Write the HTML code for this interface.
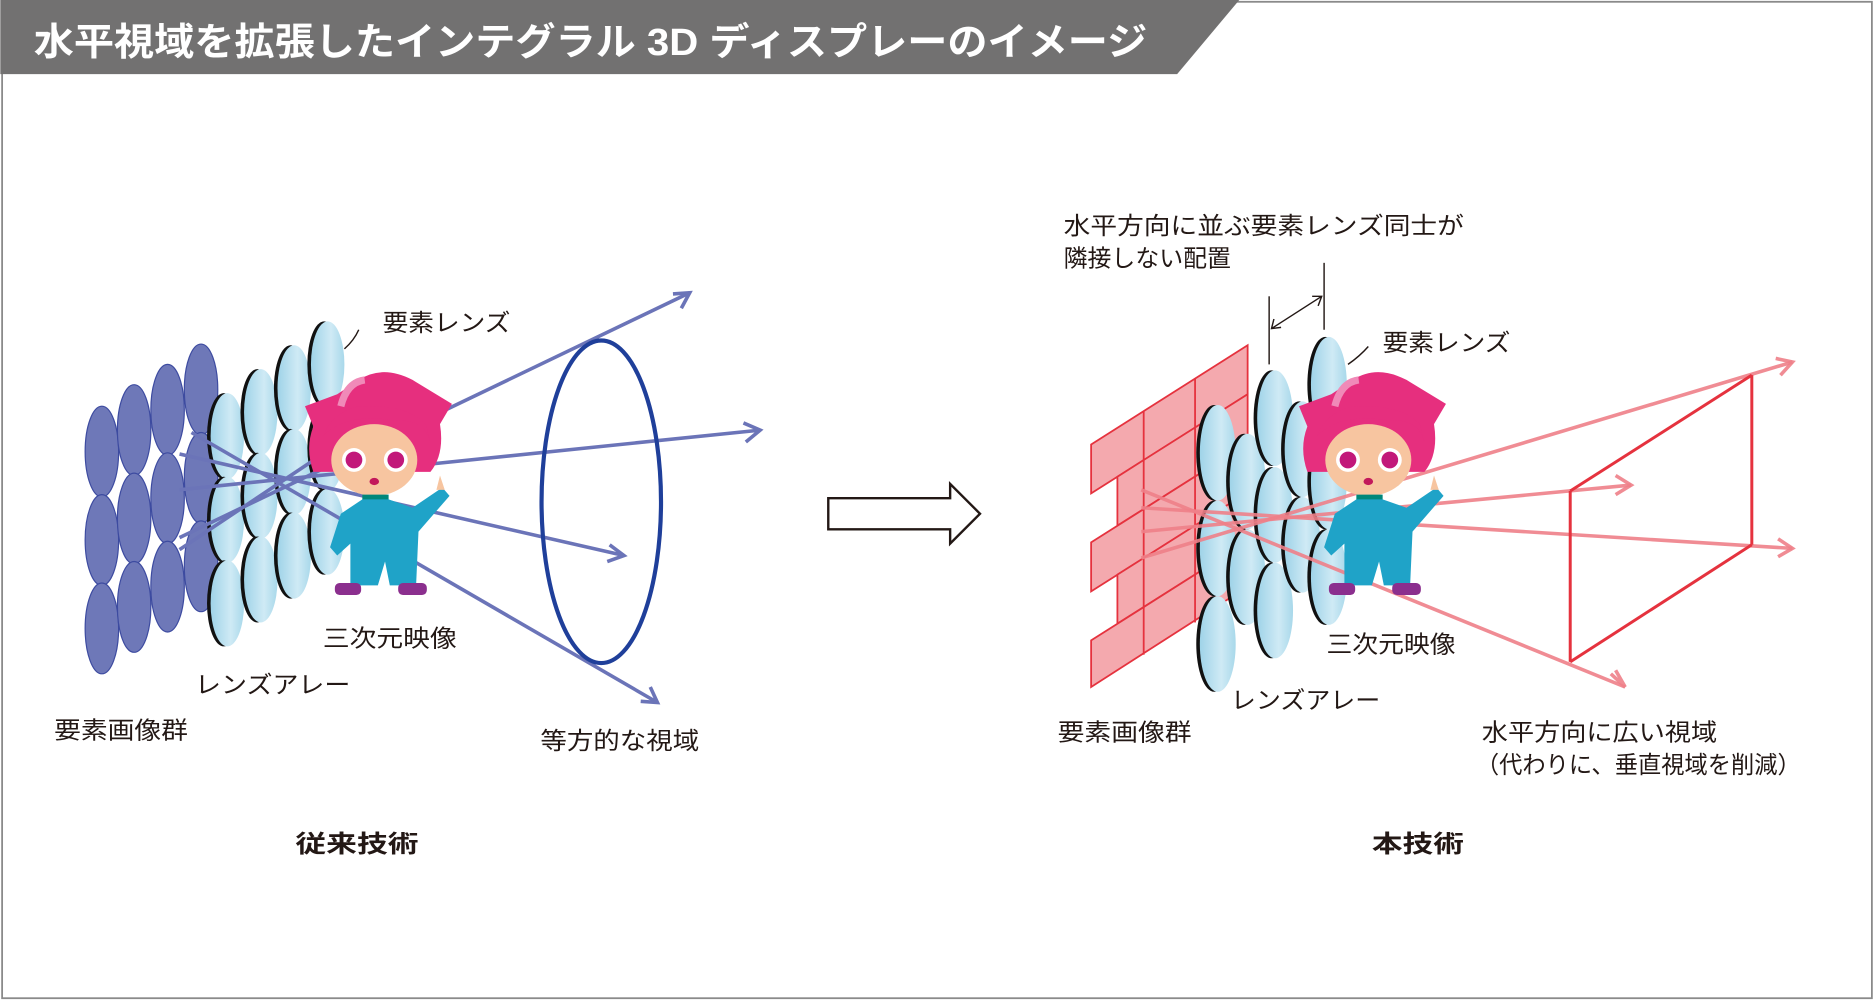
<!DOCTYPE html>
<html><head><meta charset="utf-8"><style>
html,body{margin:0;padding:0;background:#fff}
svg{display:block}
text{font-family:"Liberation Sans","Noto Sans CJK JP",sans-serif;fill:#231815}
</style></head><body>
<svg width="1874" height="1000" viewBox="0 0 1568 837" xmlns="http://www.w3.org/2000/svg">
<defs>
<linearGradient id="lg" x1="0" x2="1" y1="0" y2="0">
<stop offset="0" stop-color="#9fd3e8"/><stop offset="0.6" stop-color="#cfeaf5"/><stop offset="1" stop-color="#a8d8ea"/>
</linearGradient>
<g id="lens"><ellipse cx="-3" cy="0" rx="14" ry="36" fill="#111"/><ellipse cx="0" cy="0" rx="14" ry="36" fill="url(#lg)"/></g>
<g id="lensR"><ellipse cx="-3" cy="0" rx="15" ry="40" fill="#111"/><ellipse cx="0" cy="0" rx="15" ry="40" fill="url(#lg)"/></g>
<g id="chr">
<path d="M255 340 L282 330 L300 318 Q320 305 345 318 L378 338 L368 355 Q372 380 360 395 L262 395 Q255 375 262 357 Z" fill="#e62f7e"/>
<path d="M285 340 Q290 320 305 318" stroke="#f08ab8" stroke-width="6" fill="none"/>
<ellipse cx="313" cy="385" rx="36" ry="30" fill="#f7c5a0"/>
<path d="M270 365 Q290 345 330 352 Q355 350 360 370 L356 355 Q340 338 300 340 Q278 345 270 365Z" fill="#e62f7e"/>
<circle cx="296" cy="385" r="10" fill="#fff"/><circle cx="296" cy="385" r="7" fill="#c2187a"/>
<circle cx="331" cy="385" r="10" fill="#fff"/><circle cx="331" cy="385" r="7" fill="#c2187a"/>
<ellipse cx="313" cy="403" rx="4" ry="3" fill="#c2185b"/>
<rect x="303" y="414" width="22" height="25" fill="#00877a"/>
<path d="M285 430 L303 418 L325 418 L345 425 L370 408 L376 415 L350 445 L348 490 L326 490 L322 470 L316 490 L293 490 L293 455 L282 465 L276 458 Z" fill="#1fa3c8"/>
<path d="M365 410 L368 398 L372 410 Z" fill="#f7c5a0"/>
<rect x="280" y="488" width="22" height="10" rx="4" fill="#8b2f8e"/>
<rect x="333" y="488" width="24" height="10" rx="4" fill="#8b2f8e"/>
</g>
</defs>

<rect x="1.5" y="1.5" width="1565" height="834" fill="none" stroke="#8a8a8a" stroke-width="1.5"/>
<polygon points="0,0 1037,0 985,62 0,62" fill="#727171"/>
<text x="28" y="46" font-size="32" font-weight="bold" textLength="932" lengthAdjust="spacingAndGlyphs" style="fill:#fff">水平視域を拡張したインテグラル 3D ディスプレーのイメージ</text>

<g fill="#6e78b8" stroke="#3d4ba0" stroke-width="1">
<ellipse cx="85" cy="378" rx="14" ry="38"/><ellipse cx="85" cy="452" rx="14" ry="38"/><ellipse cx="85" cy="526" rx="14" ry="38"/>
<ellipse cx="112" cy="360" rx="14" ry="38"/><ellipse cx="112" cy="434" rx="14" ry="38"/><ellipse cx="112" cy="508" rx="14" ry="38"/>
<ellipse cx="140" cy="343" rx="14" ry="38"/><ellipse cx="140" cy="417" rx="14" ry="38"/><ellipse cx="140" cy="491" rx="14" ry="38"/>
<ellipse cx="168" cy="326" rx="14" ry="38"/><ellipse cx="168" cy="400" rx="14" ry="38"/><ellipse cx="168" cy="474" rx="14" ry="38"/>
</g>
<use href="#lens" x="190" y="365"/><use href="#lens" x="190" y="435"/><use href="#lens" x="190" y="505"/>
<use href="#lens" x="218" y="345"/><use href="#lens" x="218" y="415"/><use href="#lens" x="218" y="485"/>
<use href="#lens" x="246" y="325"/><use href="#lens" x="246" y="395"/><use href="#lens" x="246" y="465"/>
<use href="#lens" x="274" y="305"/><use href="#lens" x="274" y="375"/><use href="#lens" x="274" y="445"/>
<g stroke="#6b74b8" stroke-width="3" fill="none">
<line x1="150" y1="450" x2="577" y2="245"/>
<line x1="150" y1="410" x2="636" y2="360"/>
<line x1="150" y1="380" x2="522" y2="465"/>
<line x1="160" y1="362" x2="550" y2="588"/>
<line x1="150" y1="460" x2="270" y2="380"/>
<polyline points="563,246 577,245 570,258"/>
<polyline points="622,354 636,360 624,370"/>
<polyline points="510,456 522,465 508,470"/>
<polyline points="536,587 550,588 544,575"/>
</g>
<ellipse cx="503" cy="420" rx="50" ry="135" fill="none" stroke="#1f3f9a" stroke-width="3.5"/>
<use href="#chr"/>
<path d="M288 292 Q296 285 300 276" stroke="#231815" stroke-width="1.2" fill="none"/>

<g font-size="20">
<text x="320" y="277" textLength="107" lengthAdjust="spacingAndGlyphs">要素レンズ</text>
<text x="270" y="541" textLength="112" lengthAdjust="spacingAndGlyphs">三次元映像</text>
<text x="163" y="580" textLength="130" lengthAdjust="spacingAndGlyphs">レンズアレー</text>
<text x="45" y="618" textLength="112" lengthAdjust="spacingAndGlyphs">要素画像群</text>
<text x="452" y="627" textLength="133" lengthAdjust="spacingAndGlyphs">等方的な視域</text>
</g>
<text x="247" y="713" font-size="20" font-weight="bold" textLength="103" lengthAdjust="spacingAndGlyphs">従来技術</text>

<polygon points="693,417 795,417 795,405 820,430 795,455 795,443 693,443" fill="#fff" stroke="#231815" stroke-width="2"/>

<g fill="#f4a9ae" stroke="#e5323e" stroke-width="1.5">
<polygon points="913,372 1044,289 1044,330 913,413"/>
<polygon points="935,399 1044,330 1044,371 935,440"/>
<polygon points="913,454 1044,371 1044,412 913,495"/>
<polygon points="935,481 1044,412 1044,453 935,522"/>
<polygon points="913,536 1044,453 1044,491 913,575"/>
<line x1="957" y1="344" x2="957" y2="427" /><line x1="1000" y1="317" x2="1000" y2="400"/>
<line x1="957" y1="426" x2="957" y2="509"/><line x1="1000" y1="399" x2="1000" y2="482"/>
<line x1="957" y1="508" x2="957" y2="548"/><line x1="1000" y1="481" x2="1000" y2="521"/>
</g>
<use href="#lensR" x="1019" y="379"/><use href="#lensR" x="1019" y="459"/><use href="#lensR" x="1019" y="539"/>
<use href="#lensR" x="1044" y="403"/><use href="#lensR" x="1044" y="483"/>
<use href="#lensR" x="1067" y="350"/><use href="#lensR" x="1067" y="431"/><use href="#lensR" x="1067" y="511"/>
<use href="#lensR" x="1090" y="376"/><use href="#lensR" x="1090" y="456"/>
<use href="#lensR" x="1112" y="322"/><use href="#lensR" x="1112" y="403"/><use href="#lensR" x="1112" y="483"/>
<g stroke="#ee7f88" stroke-width="3" fill="none" stroke-opacity="0.9">
<line x1="955" y1="467" x2="1500" y2="303"/>
<line x1="955" y1="445" x2="1365" y2="406"/>
<line x1="955" y1="425" x2="1500" y2="459"/>
<line x1="955" y1="410" x2="1360" y2="575"/>
<polyline points="1486,300 1500,303 1490,314"/>
<polyline points="1352,398 1365,406 1352,414"/>
<polyline points="1488,451 1500,459 1488,466"/>
<polyline points="1348,564 1360,575 1352,561"/>
</g>
<g stroke="#e5323e" stroke-width="2.5" fill="none">
<line x1="1314" y1="411" x2="1314" y2="554"/>
<line x1="1466" y1="314" x2="1466" y2="456"/>
<line x1="1314" y1="411" x2="1466" y2="314"/>
<line x1="1314" y1="554" x2="1466" y2="456"/>
</g>
<use href="#chr" transform="translate(832,0)"/>
<g stroke="#231815" stroke-width="1.2" fill="none">
<line x1="1062" y1="248" x2="1062" y2="305"/>
<line x1="1108" y1="220" x2="1108" y2="276"/>
<line x1="1064" y1="275" x2="1106" y2="248"/>
<polyline points="1066,267 1064,275 1072,274"/>
<polyline points="1098,248 1106,248 1103,256"/>
<path d="M1128 305 Q1138 298 1145 290"/>
</g>
<g font-size="20">
<text x="890" y="196" textLength="335" lengthAdjust="spacingAndGlyphs">水平方向に並ぶ要素レンズ同士が</text>
<text x="890" y="223" textLength="140" lengthAdjust="spacingAndGlyphs">隣接しない配置</text>
<text x="1157" y="294" textLength="107" lengthAdjust="spacingAndGlyphs">要素レンズ</text>
<text x="1110" y="546" textLength="108" lengthAdjust="spacingAndGlyphs">三次元映像</text>
<text x="1030" y="593" textLength="125" lengthAdjust="spacingAndGlyphs">レンズアレー</text>
<text x="885" y="620" textLength="112" lengthAdjust="spacingAndGlyphs">要素画像群</text>
<text x="1240" y="620" textLength="197" lengthAdjust="spacingAndGlyphs">水平方向に広い視域</text>
<text x="1235" y="647" textLength="272" lengthAdjust="spacingAndGlyphs">（代わりに、垂直視域を削減）</text>
</g>
<text x="1148" y="713" font-size="20" font-weight="bold" textLength="77" lengthAdjust="spacingAndGlyphs">本技術</text>
</svg>
</body></html>
